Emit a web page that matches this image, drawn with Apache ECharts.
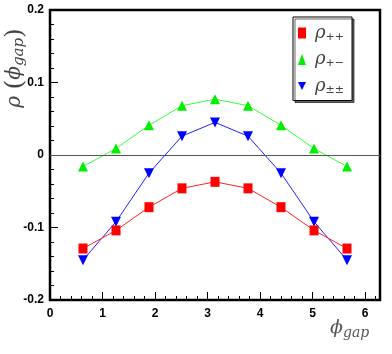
<!DOCTYPE html>
<html><head><meta charset="utf-8">
<script src="https://cdn.jsdelivr.net/npm/echarts@6/dist/echarts.min.js"></script>
<style>html,body{margin:0;padding:0;background:#fff}#c{width:392px;height:354px}</style>
</head><body><div id="c"></div>
<script>
const xVals = [0.628, 1.257, 1.885, 2.513, 3.142, 3.770, 4.398, 5.027, 5.655];
const rhoPP = [-0.129, -0.104, -0.072, -0.046, -0.037, -0.046, -0.072, -0.104, -0.129];
const rhoPM = [-0.016, 0.009, 0.041, 0.068, 0.077, 0.068, 0.041, 0.009, -0.016];
const rhoPMPM = [-0.145, -0.092, -0.025, 0.026, 0.045, 0.026, -0.025, -0.092, -0.145];
const xTickLabels = ['0', '1', '2', '3', '4', '5', '6'];
const yTickLabels = ['-0.2', '-0.1', '0', '0.1', '0.2'];
const seriesNames = ['rho++', 'rho+-', 'rho±±'];
const seriesSubs = ['++', '+\u2212', '\u00b1\u00b1'];

const pair = (ys) => xVals.map((x, i) => [x, ys[i]]);
const downTri = 'path://M0,0 L10,0 L5,10 Z';

const chart = echarts.init(document.getElementById('c'), null, {renderer: 'canvas'});
const tickFont = {fontFamily: 'Liberation Sans', fontWeight: 'bold', fontSize: 12, color: '#000'};
chart.setOption({
  animation: false,
  backgroundColor: '#fff',
  grid: {left: 50, top: 10, width: 330, height: 290, show: true, borderColor: '#000', borderWidth: 2.5, backgroundColor: 'transparent'},
  xAxis: {
    type: 'value', min: 0, max: 2 * Math.PI, interval: 1,
    axisLine: {show: false, onZero: false},
    axisTick: {show: true, inside: true, length: 8, lineStyle: {color: '#000', width: 1}},
    minorTick: {show: true, splitNumber: 5, length: 4, lineStyle: {color: '#000', width: 1}},
    splitLine: {show: false},
    axisLabel: Object.assign({margin: 8, formatter: v => {
      const r = Math.round(v);
      return Math.abs(v - r) < 1e-6 && r >= 0 && r < xTickLabels.length ? xTickLabels[r] : '';
    }}, tickFont)
  },
  yAxis: {
    type: 'value', min: -0.2, max: 0.2, interval: 0.1,
    axisLine: {show: false, onZero: false},
    axisTick: {show: true, inside: true, length: 8, lineStyle: {color: '#000', width: 1}},
    minorTick: {show: true, splitNumber: 5, length: 4, lineStyle: {color: '#000', width: 1}},
    splitLine: {show: false},
    axisLabel: Object.assign({margin: 6, formatter: v => {
      const idx = Math.round((v + 0.2) / 0.1);
      return yTickLabels[idx] !== undefined ? yTickLabels[idx] : '';
    }}, tickFont)
  },
  legend: {
    orient: 'vertical', left: 293, top: 17,
    padding: [7, 8, 5, 5],
    itemGap: 8,
    itemWidth: 8, itemHeight: 11,
    backgroundColor: '#fff', borderColor: '#000', borderWidth: 1,
    shadowColor: 'rgba(0,0,0,0.6)', shadowOffsetX: 2, shadowOffsetY: 2, shadowBlur: 0,
    data: [
      {name: seriesNames[0], icon: 'rect'},
      {name: seriesNames[1], icon: 'triangle'},
      {name: seriesNames[2], icon: downTri}
    ],
    formatter: n => '{r|\u03c1}{s|' + seriesSubs[seriesNames.indexOf(n)] + '}',
    textStyle: {
      padding: [0, 0, 0, 4],
      rich: {
        r: {fontFamily: 'DejaVu Serif', fontStyle: 'italic', fontSize: 18, color: '#444', lineHeight: 22},
        s: {fontFamily: 'DejaVu Sans', fontSize: 11, color: '#444', padding: [8, 0, 0, 0]}
      }
    }
  },
  series: [
    {
      name: seriesNames[1], type: 'line', data: pair(rhoPM), z: 3,
      symbol: 'triangle', symbolSize: 10,
      itemStyle: {color: '#00ee00'}, lineStyle: {color: '#33ff33', width: 1},
      markLine: {
        silent: true, symbol: 'none', label: {show: false},
        lineStyle: {color: '#555', width: 1.2, type: 'solid'},
        data: [{yAxis: 0}]
      }
    },
    {
      name: seriesNames[2], type: 'line', data: pair(rhoPMPM), z: 4,
      symbol: downTri, symbolSize: 10,
      itemStyle: {color: '#0000ff'}, lineStyle: {color: '#2222ff', width: 1}
    },
    {
      name: seriesNames[0], type: 'line', data: pair(rhoPP), z: 5,
      symbol: 'rect', symbolSize: [9, 10],
      itemStyle: {color: '#ff0000'}, lineStyle: {color: '#ff2222', width: 1}
    }
  ],
  graphic: [
    {
      type: 'text', x: 15, y: 68, rotation: Math.PI / 2,
      style: {
        text: '{r|\u03c1}  {p|(}{r|\u03d5}{s|gap}{p|)}',
        align: 'center', verticalAlign: 'middle',
        rich: {
          r: {fontFamily: 'DejaVu Serif', fontStyle: 'italic', fontSize: 20, fill: '#444'},
          p: {fontFamily: 'DejaVu Serif', fontSize: 25, fill: '#444'},
          s: {fontFamily: 'DejaVu Serif', fontStyle: 'italic', fontSize: 15, fill: '#444', padding: [8, 0, 0, 0]}
        }
      }
    },
    {
      type: 'text', x: 330, y: 316,
      style: {
        text: '{r|\u03d5}{s|gap}',
        rich: {
          r: {fontFamily: 'DejaVu Serif', fontStyle: 'italic', fontSize: 19, fill: '#555'},
          s: {fontFamily: 'DejaVu Serif', fontStyle: 'italic', fontSize: 14, fill: '#555', padding: [10, 0, 0, 0]}
        }
      }
    }
  ]
});
</script></body></html>
